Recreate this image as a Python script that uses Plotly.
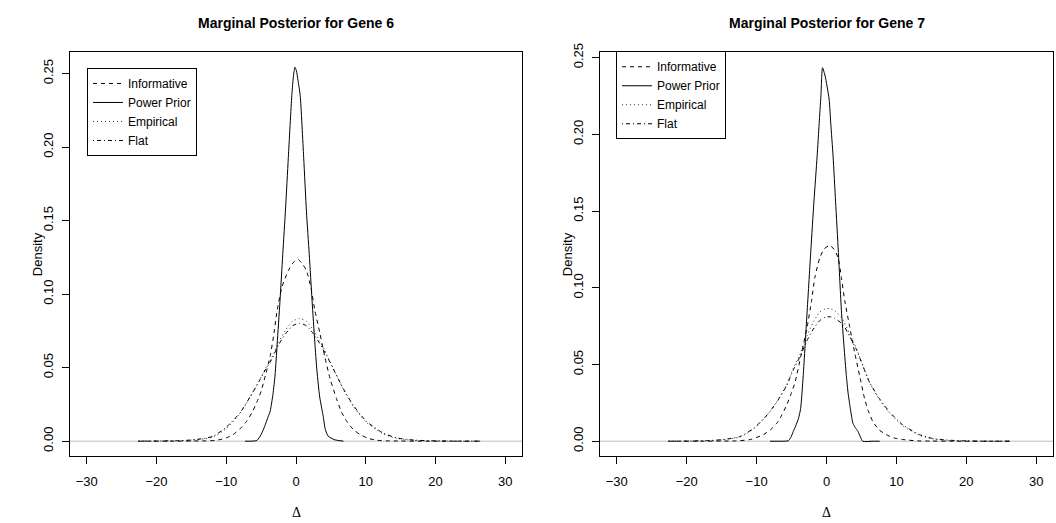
import plotly.graph_objects as go

# ---------------- Gene 6 ----------------
g6_wide_x = [-22.6, -20, -17, -15, -13, -11.8, -10, -8, -6.6, -5.2, -4.4, -3.5, -2.5, -1.5, -0.5,
             0.5, 1.5, 2.5, 3.4, 4.4, 5.6, 6.8, 8.2, 10.1, 12.5, 14.4, 17, 20, 23, 26.4]
g6_flat = [0.0000, 0.0001, 0.0003, 0.0008, 0.0020, 0.0035, 0.0095, 0.0195, 0.0300, 0.0415, 0.0485,
           0.0555, 0.0655, 0.0730, 0.0785, 0.0802, 0.0785, 0.0730, 0.0665, 0.0580, 0.0468, 0.0356,
           0.0245, 0.0135, 0.0055, 0.0023, 0.0007, 0.0002, 0.0000, 0.0000]
g6_empirical = [0.0000, 0.0001, 0.0003, 0.0007, 0.0017, 0.0030, 0.0085, 0.0190, 0.0298, 0.0418, 0.0492,
                0.0565, 0.0672, 0.0755, 0.0815, 0.0835, 0.0815, 0.0755, 0.0682, 0.0590, 0.0470, 0.0352,
                0.0238, 0.0128, 0.0050, 0.0019, 0.0005, 0.0001, 0.0000, 0.0000]

g6_inf_x = [-22.6, -18, -15, -13, -11.4, -10, -9.0, -8, -7.1, -6.3, -5.6, -5.0, -4.4, -3.7, -3.2, -2.7,
            -2.0, -1.1, -0.4, 0.3, 1.0, 1.5, 2.2, 2.7, 3.4, 4.1, 4.9, 5.8, 6.5, 7.3, 8.2, 9.2, 10.3,
            11.6, 13, 15, 18, 22, 26.4]
g6_informative = [0.0, 0.0000, 0.0001, 0.0002, 0.0006, 0.0022, 0.0045, 0.0085, 0.0134, 0.0195, 0.0267,
                  0.0340, 0.0445, 0.0580, 0.0720, 0.0890, 0.1050, 0.1160, 0.1215, 0.1236, 0.1200,
                  0.1160, 0.1030, 0.0890, 0.0740, 0.0580, 0.0423, 0.0290, 0.0200, 0.0134, 0.0080,
                  0.0045, 0.0020, 0.0006, 0.0002, 0.0001, 0.0000, 0.0, 0.0]

g6_pp_x = [-7.3, -6.5, -5.6, -5.0, -4.5, -4.0, -3.7, -3.3, -3.0, -2.7, -2.3, -1.9, -1.5, -1.1, -0.6,
           -0.35, -0.15, 0.05, 0.3, 0.6, 1.1, 1.5, 1.9, 2.3, 2.7, 3.0, 3.4, 3.9, 4.2, 4.6, 5.5, 6.8]
g6_power = [0.0, 0.0, 0.0005, 0.0045, 0.0100, 0.0165, 0.0205, 0.0320, 0.0450, 0.0660, 0.0950, 0.1270,
            0.1580, 0.1930, 0.2350, 0.2490, 0.2543, 0.2520, 0.2450, 0.2350, 0.1930, 0.1560, 0.1270,
            0.0960, 0.0670, 0.0480, 0.0300, 0.0170, 0.0080, 0.0035, 0.0010, 0.0]

# ---------------- Gene 7 ----------------
g7_wide_x = [-22.6, -20, -17, -15, -13.5, -12.3, -10.4, -8.5, -7.1, -5.7, -4.75, -3.8, -2.85, -1.9,
             -1.0, -0.2, 0.5, 1.2, 2.36, 3.31, 4.27, 5.2, 6.16, 7.58, 9.0, 10.9, 13.3, 15, 17, 20, 23, 26.4]
g7_flat = [0.0, 0.0001, 0.0004, 0.0010, 0.0020, 0.0032, 0.0085, 0.0171, 0.0256, 0.0363, 0.0465, 0.0550,
           0.0650, 0.0730, 0.0785, 0.0808, 0.0811, 0.0800, 0.0760, 0.0683, 0.0598, 0.0491, 0.0384,
           0.0277, 0.0192, 0.0107, 0.0043, 0.0020, 0.0008, 0.0002, 0.0, 0.0]
g7_empirical = [0.0, 0.0001, 0.0003, 0.0008, 0.0017, 0.0028, 0.0080, 0.0168, 0.0258, 0.0368, 0.0475,
                0.0568, 0.0680, 0.0775, 0.0840, 0.0862, 0.0865, 0.0850, 0.0790, 0.0700, 0.0605, 0.0495,
                0.0384, 0.0270, 0.0185, 0.0100, 0.0038, 0.0017, 0.0006, 0.0001, 0.0, 0.0]

g7_inf_x = [-22.6, -18, -15, -13, -10.9, -9.0, -8, -7.1, -6.4, -5.7, -5.1, -4.5, -3.56, -2.76, -2.13,
            -1.66, -0.95, -0.3, 0.47, 1.1, 1.65, 2.13, 2.6, 3.31, 4.03, 4.74, 5.45, 6.0, 6.63, 7.5,
            8.53, 9.6, 10.9, 13, 15, 18, 22, 26.4]
g7_informative = [0.0, 0.0000, 0.0001, 0.0002, 0.0011, 0.0043, 0.0075, 0.0117, 0.0170, 0.0235, 0.0305,
                  0.0384, 0.0577, 0.0747, 0.0918, 0.1068, 0.1196, 0.1255, 0.1275, 0.1250, 0.1196,
                  0.1068, 0.0918, 0.0747, 0.0577, 0.0427, 0.0277, 0.0195, 0.0128, 0.0075, 0.0043,
                  0.0022, 0.0011, 0.0002, 0.0001, 0.0, 0.0, 0.0]

g7_pp_x = [-8.07, -6.5, -5.46, -5.1, -4.75, -4.4, -4.0, -3.7, -3.33, -2.76, -2.23, -1.8, -1.34, -1.05,
           -0.8, -0.57, -0.2, 0.37, 0.61, 0.94, 1.3, 1.7, 2.13, 2.5, 2.84, 3.1, 3.41, 3.78, 4.1, 4.5,
           5.2, 6.5, 7.6]
g7_power = [0.0, 0.0, 0.0003, 0.0025, 0.0064, 0.0100, 0.0150, 0.0213, 0.0427, 0.0854, 0.1250, 0.1560,
            0.1858, 0.2071, 0.2250, 0.2434, 0.2380, 0.2230, 0.2071, 0.1858, 0.1560, 0.1230, 0.0854,
            0.0620, 0.0427, 0.0310, 0.0213, 0.0117, 0.0090, 0.0064, 0.0, 0.0, 0.0]

titles = ["Marginal Posterior for Gene 6", "Marginal Posterior for Gene 7"]
series_names = ["Informative", "Power Prior", "Empirical", "Flat"]
x_ticks = [-30, -20, -10, 0, 10, 20, 30]
y_ticks = [0.00, 0.05, 0.10, 0.15, 0.20, 0.25]

W, H = 1056, 523
FONT = "Liberation Sans, Arial, Helvetica, sans-serif"

dashes = {"Informative": "4px,4px", "Power Prior": "solid",
          "Empirical": "1px,3px", "Flat": "1px,3px,4px,3px"}
colors = {"Informative": "#000000", "Power Prior": "#000000",
          "Empirical": "#333333", "Flat": "#000000"}

panels = [
    dict(xs={"Informative": g6_inf_x, "Power Prior": g6_pp_x, "Empirical": g6_wide_x, "Flat": g6_wide_x},
         ys={"Informative": g6_informative, "Power Prior": g6_power, "Empirical": g6_empirical, "Flat": g6_flat},
         xa="x", ya="y", legend="legend"),
    dict(xs={"Informative": g7_inf_x, "Power Prior": g7_pp_x, "Empirical": g7_wide_x, "Flat": g7_wide_x},
         ys={"Informative": g7_informative, "Power Prior": g7_power, "Empirical": g7_empirical, "Flat": g7_flat},
         xa="x2", ya="y2", legend="legend2"),
]

fig = go.Figure()
for p in panels:
    for name in series_names:
        fig.add_trace(go.Scatter(
            x=p["xs"][name], y=p["ys"][name], mode="lines", name=name,
            line=dict(color=colors[name], width=1, dash=dashes[name], shape="spline", smoothing=0.6),
            xaxis=p["xa"], yaxis=p["ya"], legend=p["legend"], showlegend=True))

# pixel boxes of each plot region (left, right, top, bottom)
boxes = [(70, 522, 44, 455), (600, 1053, 44, 455)]
yranges = [[-0.0102, 0.2645], [-0.00975, 0.2535]]


def px(xp):
    return xp / W


def py(yp):
    return (H - yp) / H


axis_common = dict(showgrid=False, zeroline=False, showline=True, mirror=True, linecolor="black",
                   linewidth=1, ticks="outside", ticklen=7, tickwidth=1, tickcolor="black",
                   tickfont=dict(family=FONT, size=13, color="black"))

for i, (l, r, t, b) in enumerate(boxes):
    sx = "" if i == 0 else "2"
    fig.layout["xaxis" + sx] = dict(axis_common, domain=[px(l), px(r)], range=[-32.4, 32.4],
                                    tickvals=x_ticks, ticklabelstandoff=6,
                                    anchor="y" + sx)
    fig.layout["yaxis" + sx] = dict(axis_common, domain=[py(b), py(t)], range=yranges[i],
                                    tickvals=y_ticks, tickformat=".2f", tickangle=-90,
                                    ticklabelstandoff=4, anchor="x" + sx)
    # grey reference line at zero density
    fig.add_shape(type="line", xref="x" + sx + " domain", yref="y" + sx, x0=0, x1=1, y0=0, y1=0,
                  line=dict(color="#BEBEBE", width=1), layer="below")
    cx = (l + r) / 2
    fig.add_annotation(text="<b>%s</b>" % titles[i], xref="paper", yref="paper", x=px(cx), y=py(14),
                       showarrow=False, font=dict(family=FONT, size=14, color="black"),
                       xanchor="center", yanchor="middle")
    fig.add_annotation(text="Density", xref="paper", yref="paper", x=px(l - 33), y=py((t + b) / 2),
                       showarrow=False, textangle=-90, font=dict(family=FONT, size=13, color="black"),
                       xanchor="center", yanchor="middle")
    fig.add_annotation(text="Δ", xref="paper", yref="paper", x=px(cx), y=py(512),
                       showarrow=False, font=dict(family="Liberation Serif, Times New Roman, serif", size=14, color="black"),
                       xanchor="center", yanchor="middle")

legend_style = dict(bordercolor="black", borderwidth=1, bgcolor="white",
                    font=dict(family=FONT, size=12, color="black"),
                    xanchor="left", yanchor="top", tracegroupgap=0, itemwidth=30, traceorder="normal")
fig.update_layout(
    width=W, height=H, margin=dict(l=0, r=0, t=0, b=0),
    paper_bgcolor="white", plot_bgcolor="white",
    legend=dict(legend_style, x=px(87), y=py(60)),
    legend2=dict(legend_style, x=px(616), y=py(43)),
)

fig.write_html("out.html")
